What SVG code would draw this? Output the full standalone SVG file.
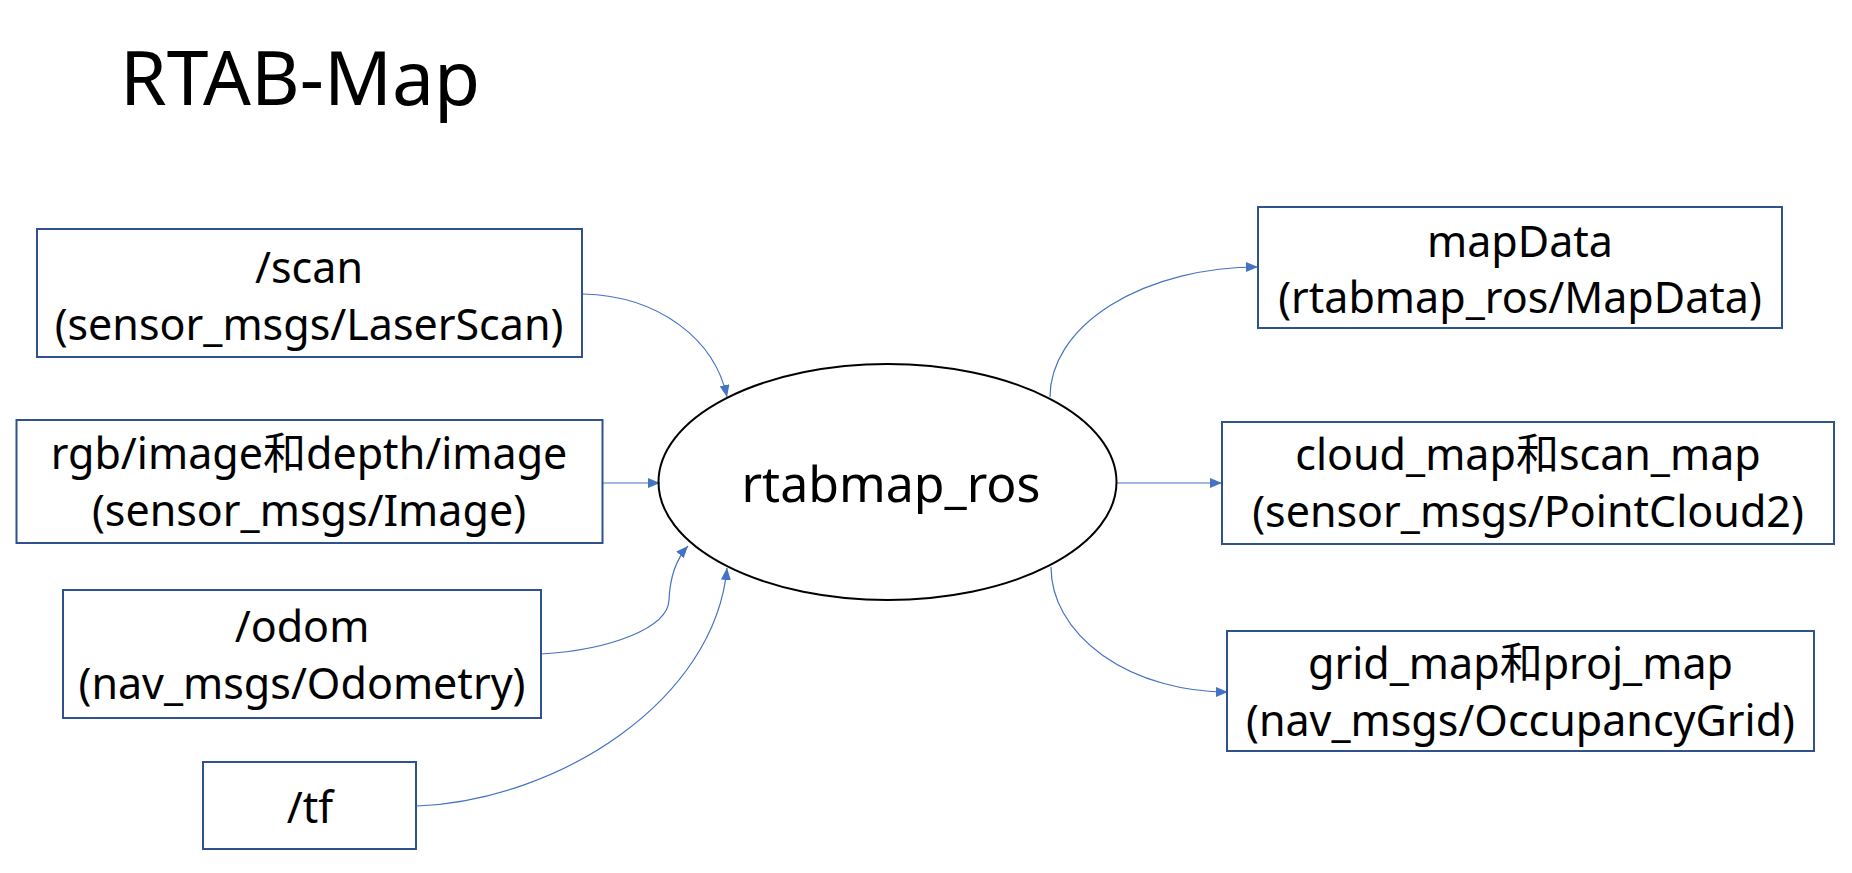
<svg xmlns="http://www.w3.org/2000/svg" width="1852" height="873" viewBox="0 0 1852 873">
<defs>
<style>
.box{fill:#fff;stroke:#2F528F;stroke-width:2}
.t{font-family:"Noto Sans","Noto Sans CJK SC",sans-serif;font-size:43px;fill:#000;text-anchor:middle}
.conn{fill:none;stroke:#4472C4;stroke-width:1.2}
</style>
<marker id="ah" viewBox="0 0 12 10" refX="12" refY="5" markerWidth="12" markerHeight="10" markerUnits="userSpaceOnUse" orient="auto">
<path d="M0,0 L12,5 L0,10 Z" fill="#4472C4"/>
</marker>
</defs>
<rect width="1852" height="873" fill="#fff"/>
<text x="120" y="105" style="font-family:'Noto Sans',sans-serif;font-size:75px;fill:#000">RTAB-Map</text>
<g id="connectors">
<path class="conn" d="M583,294 C660,296 715,340 727,397" marker-end="url(#ah)"/>
<path class="conn" d="M603,483 L660,483" marker-end="url(#ah)"/>
<path class="conn" d="M541,654 C610,650 668,628 669,600 C670,575 678,557 688,546" marker-end="url(#ah)"/>
<path class="conn" d="M417,806 C560,800 715,700 727,568" marker-end="url(#ah)"/>
<path class="conn" d="M1050,397 A208,130 0 0 1 1258,267" marker-end="url(#ah)"/>
<path class="conn" d="M1117,483 L1222,483" marker-end="url(#ah)"/>
<path class="conn" d="M1051,567 A177,125 0 0 0 1228,692" marker-end="url(#ah)"/>
</g>
<g id="rtabmap_ros">
<ellipse cx="887.5" cy="482" rx="229" ry="118" fill="none" stroke="#000" stroke-width="2"/>
<text class="t" x="891" y="502" style="font-size:50px">rtabmap_ros</text>
</g>
<g id="scan">
<rect class="box" x="37" y="229" width="545" height="128"/>
<text class="t" x="309" y="283">/scan</text>
<text class="t" x="309" y="340">(sensor_msgs/LaserScan)</text>
</g>
<g id="rgb">
<rect class="box" x="16.5" y="420" width="586" height="123"/>
<text class="t" x="309" y="469">rgb/image和depth/image</text>
<text class="t" x="309" y="526">(sensor_msgs/Image)</text>
</g>
<g id="odom">
<rect class="box" x="63" y="590" width="478" height="128"/>
<text class="t" x="302" y="642">/odom</text>
<text class="t" x="302" y="699">(nav_msgs/Odometry)</text>
</g>
<g id="tf">
<rect class="box" x="203" y="762" width="213" height="87"/>
<text class="t" x="310" y="823">/tf</text>
</g>
<g id="mapData">
<rect class="box" x="1258" y="207" width="524" height="121"/>
<text class="t" x="1520" y="257">mapData</text>
<text class="t" x="1520" y="313">(rtabmap_ros/MapData)</text>
</g>
<g id="cloud_map">
<rect class="box" x="1222" y="422" width="612" height="122"/>
<text class="t" x="1528" y="470">cloud_map和scan_map</text>
<text class="t" x="1528" y="527">(sensor_msgs/PointCloud2)</text>
</g>
<g id="grid_map">
<rect class="box" x="1227" y="631" width="587" height="120"/>
<text class="t" x="1520.5" y="679">grid_map和proj_map</text>
<text class="t" x="1520.5" y="736">(nav_msgs/OccupancyGrid)</text>
</g>
</svg>
